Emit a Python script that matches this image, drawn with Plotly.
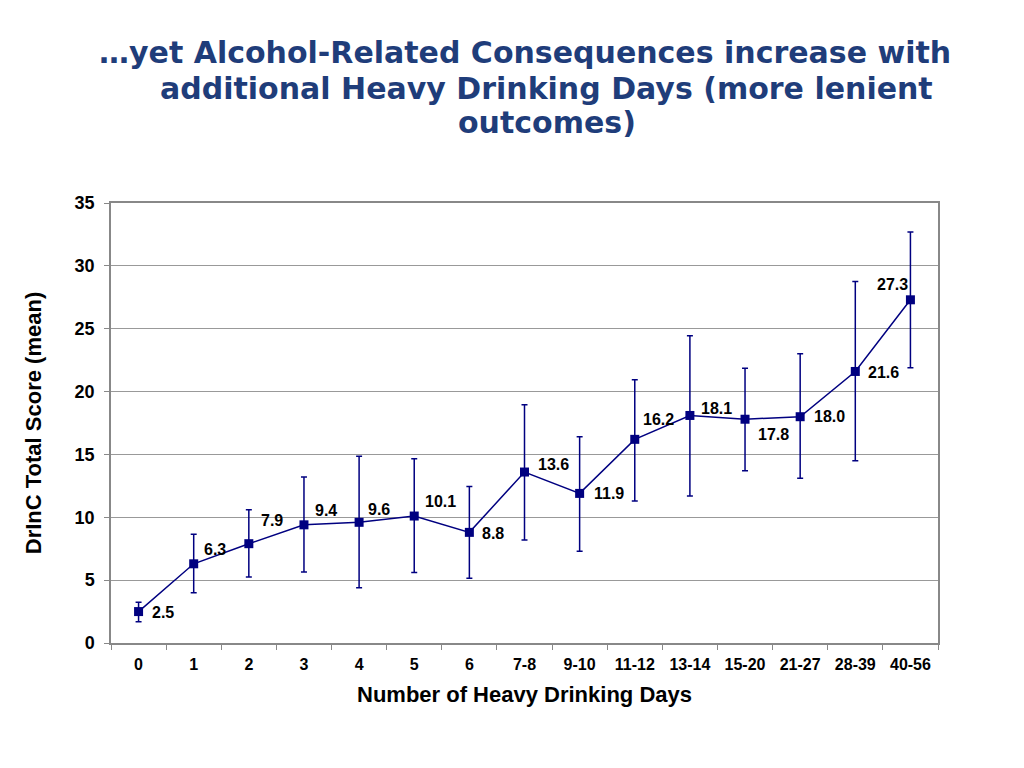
import plotly.graph_objects as go

categories = ["0", "1", "2", "3", "4", "5", "6", "7-8", "9-10", "11-12",
              "13-14", "15-20", "21-27", "28-39", "40-56"]
means = [2.5, 6.3, 7.9, 9.4, 9.6, 10.1, 8.8, 13.6, 11.9, 16.2, 18.1, 17.8, 18.0, 21.6, 27.3]
upper = [3.25, 8.65, 10.6, 13.2, 14.85, 14.65, 12.45, 18.95, 16.4, 20.95, 24.45, 21.85, 23.0, 28.75, 32.7]
lower = [1.7, 4.0, 5.25, 5.65, 4.4, 5.6, 5.15, 8.2, 7.3, 11.3, 11.7, 13.7, 13.1, 14.5, 21.9]
labels = ["2.5", "6.3", "7.9", "9.4", "9.6", "10.1", "8.8", "13.6", "11.9", "16.2",
          "18.1", "17.8", "18.0", "21.6", "27.3"]
title_lines = ["…yet Alcohol-Related Consequences increase with",
               "additional Heavy Drinking Days (more lenient",
               "outcomes)"]

err_plus = [u - m for u, m in zip(upper, means)]
err_minus = [m - l for m, l in zip(means, lower)]

# label offsets in pixels (style only): (dx right, dy up)
label_shift = [(24, -1), (21, 14), (23, 23), (22, 14), (20, 13), (26, 15), (24, -1),
               (29, 8), (29, 0), (24, 20), (27, 7), (28, -15), (29, 0), (28, -1), (-18, 15)]

navy = "#000080"
font_family = "Liberation Sans, Arial, sans-serif"

fig = go.Figure()
fig.add_trace(go.Scatter(
    x=categories, y=means,
    mode="lines+markers",
    line=dict(color=navy, width=1.5),
    marker=dict(symbol="square", size=9, color=navy),
    error_y=dict(type="data", symmetric=False, array=err_plus, arrayminus=err_minus,
                 color=navy, thickness=1.5, width=3),
    cliponaxis=False,
    showlegend=False,
))

annotations = []
for cat, m, lab, (dx, dy) in zip(categories, means, labels, label_shift):
    annotations.append(dict(
        x=cat, y=m, xref="x", yref="y", text=lab, showarrow=False,
        xanchor="center", yanchor="middle", xshift=dx, yshift=dy,
        font=dict(family=font_family, size=16, color="black", weight="bold"),
    ))

title_y = [52, 88, 122]
title_dx = [-22, 0, 0]
for line, ty, tdx in zip(title_lines, title_y, title_dx):
    annotations.append(dict(
        text=line, xref="paper", yref="paper", x=0.527, y=1.0,
        yshift=203 - ty, xshift=tdx, xanchor="center", yanchor="middle", showarrow=False,
        font=dict(family="DejaVu Sans, sans-serif", size=30, color="#1f3d7a",
                  weight="bold"),
    ))

fig.update_layout(
    width=1016, height=760,
    paper_bgcolor="white", plot_bgcolor="white",
    margin=dict(l=103, r=86, t=195, b=125),
    font=dict(family=font_family, color="black"),
    annotations=annotations,
)

fig.update_xaxes(
    type="category", range=[-0.5, len(categories) - 0.5],
    tickson="boundaries", ticks="outside", ticklen=5,
    tickcolor="#888888", showline=True, mirror=True, linecolor="#888888", linewidth=1.5,
    showgrid=False, automargin=False, ticklabelstandoff=6,
    tickfont=dict(size=16, weight="bold", color="black"),
    title=dict(text="Number of Heavy Drinking Days",
               font=dict(size=22, weight="bold", color="black"), standoff=15),
)
fig.update_yaxes(
    range=[0, 35], dtick=5, ticks="outside", ticklen=5, tickcolor="#888888",
    showline=True, mirror=True, linecolor="#888888", linewidth=1.5,
    showgrid=True, gridcolor="#999999", gridwidth=1, zeroline=False,
    automargin=False, ticklabelstandoff=6,
    tickfont=dict(size=18, weight="bold", color="black"),
    title=dict(text="DrInC Total Score (mean)",
               font=dict(size=22, weight="bold", color="black"), standoff=27),
)

fig.write_html("out.html")
